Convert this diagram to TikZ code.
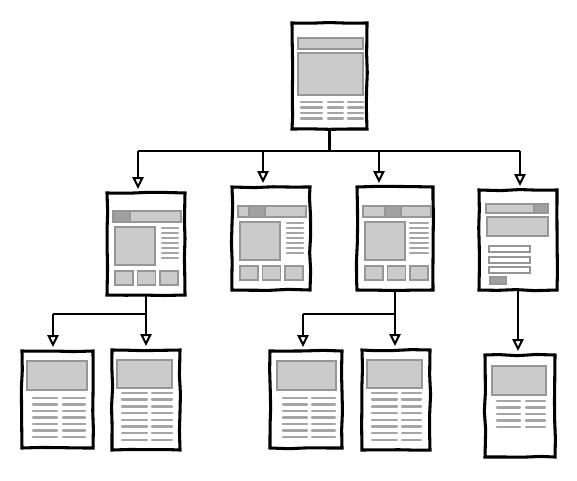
\documentclass[tikz,border=0pt]{standalone}
\usepackage{tikz}
\usetikzlibrary{arrows.meta,decorations.pathmorphing}

\definecolor{blockgray}{RGB}{203,203,203}
\definecolor{darkblock}{RGB}{160,160,160}
\definecolor{edgegray}{RGB}{150,150,150}
\definecolor{linegray}{RGB}{165,165,165}

\tikzset{
  page/.style 2 args={draw=black, line width=2.3pt, fill=white, inner sep=0pt, outer sep=0pt,
    minimum width=#1*0.75pt, minimum height=#2*0.75pt,
    decorate, decoration={random steps, segment length=14pt, amplitude=0.5pt}},
  block/.style={draw=edgegray, fill=blockgray, line width=1.1pt},
  field/.style={draw=edgegray, fill=white, line width=1.2pt},
  textline/.style={draw=linegray, line width=1.9pt, line cap=round},
  wire/.style={draw=black, line width=1.7pt},
  flow/.style={wire, -{Triangle[open,length=9pt,width=8.5pt,line width=1.5pt]}, shorten >=3pt}
}

\begin{document}
\begin{tikzpicture}[x=0.75pt,y=0.75pt,yscale=-1,xscale=1]
\useasboundingbox (0,0) rectangle (577,480);
\pgfmathsetseed{7}

% Pages
\node[page={75}{106}] (home) at (329.5,76) {};
\node[page={78}{102}] (pA) at (146,244) {};
\node[page={78}{103}] (pB) at (271,238.5) {};
\node[page={76}{103}] (pC) at (395,238.5) {};
\node[page={78}{100}] (pD) at (518,240) {};
\node[page={71}{97}] (q1) at (57.5,399.5) {};
\node[page={68}{100}] (q2) at (146,400) {};
\node[page={72}{97}] (q3) at (306,399.5) {};
\node[page={68}{100}] (q4) at (396,400) {};
\node[page={70}{102}] (q5) at (520,406) {};

% Home page content
\draw[block] (298,38) rectangle (363,49);
\draw[block] (298,53) rectangle (363,95);
\foreach \y in {102,107.5,113,118.5} {
  \draw[textline] (301,\y) -- (322,\y);
  \draw[textline] (328,\y) -- (343,\y);
  \draw[textline] (348,\y) -- (363,\y);
}

% Section page A
\draw[block] (113,211) rectangle (181,222);
\draw[block, fill=darkblock] (113,211) rectangle (130,222);
\draw[block] (115,227) rectangle (155,265);
\foreach \y in {228,233,...,258} \draw[textline] (162,\y) -- (178,\y);
\foreach \x in {115,137.5,160} \draw[block] (\x,271) rectangle ++(18,14);

% Section page B
\draw[block] (238,206) rectangle (306,217);
\draw[block, fill=darkblock] (249,206) rectangle (265,217);
\draw[block] (240,222) rectangle (280,260);
\foreach \y in {223,228,...,253} \draw[textline] (287,\y) -- (303,\y);
\foreach \x in {240,262.5,285} \draw[block] (\x,266) rectangle ++(18,14);

% Section page C
\draw[block] (363,206) rectangle (431,217);
\draw[block, fill=darkblock] (385,206) rectangle (401,217);
\draw[block] (365,222) rectangle (405,260);
\foreach \y in {223,228,...,253} \draw[textline] (410,\y) -- (428,\y);
\foreach \x in {365,387.5,410} \draw[block] (\x,266) rectangle ++(18,14);

% Form page D
\draw[block] (486,204) rectangle (548,213);
\draw[block, fill=darkblock] (534,204) rectangle (548,213);
\draw[block] (487,217) rectangle (548,236);
\foreach \y in {246,257,267} \draw[field] (489,\y) rectangle ++(41,6);
\draw[block, fill=darkblock] (490,277) rectangle (506,284);

% Article pages
\draw[block] (27,361) rectangle (87,390);
\foreach \y in {398,404.5,411,417.5,424,430.5,437} {
  \draw[textline] (33,\y) -- (57,\y);
  \draw[textline] (63,\y) -- (85,\y);
}
\draw[block] (117,360) rectangle (172,388);
\foreach \y in {393,399.7,406.4,413.1,419.8,426.5,433.2,440} {
  \draw[textline] (122,\y) -- (147,\y);
  \draw[textline] (152,\y) -- (172,\y);
}
\draw[block] (277,361) rectangle (336,390);
\foreach \y in {398,404.5,411,417.5,424,430.5,437} {
  \draw[textline] (283,\y) -- (307,\y);
  \draw[textline] (312,\y) -- (335,\y);
}
\draw[block] (367,360) rectangle (422,388);
\foreach \y in {393,399.7,406.4,413.1,419.8,426.5,433.2,440} {
  \draw[textline] (372,\y) -- (397,\y);
  \draw[textline] (402,\y) -- (421,\y);
}
\draw[block] (492,366) rectangle (546,395);
\foreach \y in {401,407.5,414,420.5,427} {
  \draw[textline] (497,\y) -- (520,\y);
  \draw[textline] (526,\y) -- (545,\y);
}

% Connectors, first level
\coordinate (tapA) at (138,151);
\coordinate (tapB) at (263,151);
\coordinate (tapC) at (379,151);
\coordinate (tapD) at (520,151);
\draw[wire] (home.south) -- (home.south |- tapA);
\draw[wire] (tapA) -- (tapD);
\foreach \t/\p in {tapA/pA, tapB/pB, tapC/pC, tapD/pD}
  \draw[flow] (\t) -- (\t |- \p.north);

% Connectors, second level
\path (pA.south) ++(0,19) coordinate (splitA) ++(-93,0) coordinate (tapq1);
\draw[wire] (splitA) -- (tapq1);
\draw[flow] (tapq1) -- (tapq1 |- q1.north);
\draw[flow] (pA.south) -- (pA.south |- q2.north);

\path (pC.south) ++(0,24) coordinate (splitC) ++(-92,0) coordinate (tapq3);
\draw[wire] (splitC) -- (tapq3);
\draw[flow] (tapq3) -- (tapq3 |- q3.north);
\draw[flow] (pC.south) -- (pC.south |- q4.north);

\draw[flow] (pD.south) -- (pD.south |- q5.north);

\end{tikzpicture}
\end{document}
